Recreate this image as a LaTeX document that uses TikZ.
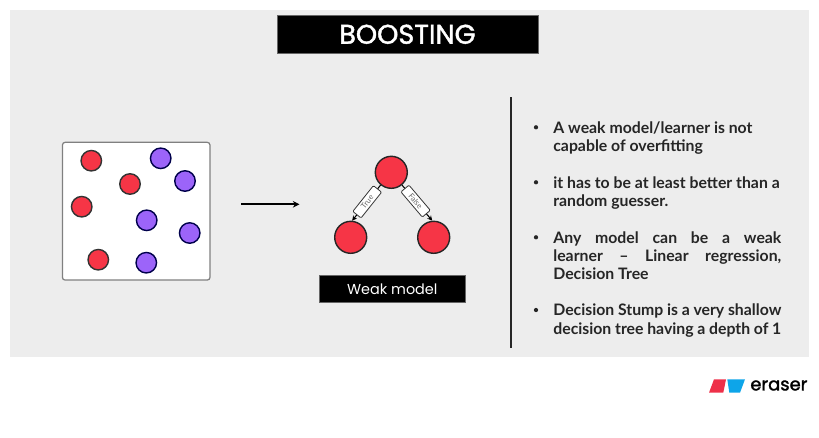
\documentclass[tikz,border=0pt]{standalone}
\usepackage{fontspec}
\setmainfont{Lato}
\newfontfamily\titlefont{Poppins}
\newfontfamily\titleheavy[FakeBold=1.6]{Poppins}
\usetikzlibrary{arrows.meta}
\definecolor{panelgray}{HTML}{EDEDED}
\definecolor{dotred}{HTML}{F63546}
\definecolor{dotpurple}{HTML}{9C64F9}
\definecolor{logored}{HTML}{EE3049}
\definecolor{logoblue}{HTML}{0DA5E9}
\tikzset{
    reddot/.style={circle,draw=black!80,fill=dotred,line width=0.8pt,minimum size=0.41cm,inner sep=0pt},
    purpledot/.style={circle,draw=black!70!blue,fill=dotpurple,line width=0.8pt,minimum size=0.41cm,inner sep=0pt},
    treenode/.style={circle,draw=black!85,fill=dotred,line width=0.8pt,minimum size=0.64cm,inner sep=0pt},
    blackbar/.style={fill=black,text=white,draw=black!60,line width=0.2pt,inner sep=0pt,anchor=center},
    edgelabel/.style={draw=black!80,fill=white,line width=0.45pt,rounded corners=0.6pt,text=black!60,font=\fontsize{4.4}{5}\selectfont,minimum width=0.66cm,minimum height=0.21cm,inner sep=0pt},
    bullettext/.style={anchor=north west,inner sep=0pt,text width=228*0.02cm,align=justify,text=black!85,font=\bfseries\fontsize{9}{10.4}\selectfont},
    bulletdot/.style={circle,fill=black!85,minimum size=0.085cm,inner sep=0pt}
}
\begin{document}
\begin{tikzpicture}[x=0.02cm,y=-0.02cm]
    \useasboundingbox (0,0) rectangle (819,437);
    \fill[panelgray] (10,10) rectangle (809,357);

    % Title
    \node[blackbar,minimum width=261.5*0.02cm,minimum height=38.5*0.02cm,font=\titleheavy\fontsize{15.4}{17}\selectfont] (title) at (407.5,34.3) {BOOSTING};

    % Data box
    \node[draw=black!50,fill=white,line width=0.7pt,rounded corners=1.5pt,minimum width=147.5*0.02cm,minimum height=137.7*0.02cm,inner sep=0pt] (databox) at (136.2,211.2) {};
    \node[reddot] (rA) at (91.3,160.7) {};
    \node[reddot] (rB) at (130,184) {};
    \node[reddot] (rC) at (81.7,206.7) {};
    \node[reddot] (rD) at (98.3,259.7) {};
    \node[purpledot] (pA) at (160.7,158.3) {};
    \node[purpledot] (pB) at (185,181) {};
    \node[purpledot] (pC) at (146.7,220.3) {};
    \node[purpledot] (pD) at (189.7,233) {};
    \node[purpledot] (pE) at (146.3,262.7) {};

    % Arrow
    \coordinate (arrowstart) at (241.3,204.3);
    \coordinate (arrowend) at (299.5,204.3);
    \draw[line width=1pt,-{Stealth[length=3.8pt,width=3.8pt]}] (arrowstart) -- (arrowend);

    % Tree
    \node[treenode] (root) at (391.3,172.3) {};
    \node[treenode] (left) at (350.7,237.3) {};
    \node[treenode] (right) at (433.7,237.3) {};
    \draw[line width=0.6pt,-{Stealth[length=2.8pt,width=2.8pt]}] (root.230) -- node[edgelabel,sloped,pos=0.47] (truelabel) {True} (left.85);
    \draw[line width=0.6pt,-{Stealth[length=2.8pt,width=2.8pt]}] (root.310) -- node[edgelabel,sloped,pos=0.45] (falselabel) {False} (right.95);
    \node[blackbar,minimum width=146.7*0.02cm,minimum height=27*0.02cm,font=\titlefont\fontsize{8.2}{10}\selectfont] (weak) at (392.3,288.8) {Weak model};

    % Divider
    \coordinate (divtop) at (511,97);
    \coordinate (divbottom) at (511,348);
    \draw[line width=1.1pt,black!85] (divtop) -- (divbottom);

    % Bullets
    \node[bulletdot] (dotA) at (536,127.3) {};
    \node[bulletdot] (dotB) at (536,182.3) {};
    \node[bulletdot] (dotC) at (536,237.3) {};
    \node[bulletdot] (dotD) at (536,310) {};
    \node[bullettext] (textA) at (553,121) {A weak model/learner is not\\capable of overfitting};
    \node[bullettext] (textB) at (553,176) {it has to be at least better than a\\random guesser.};
    \node[bullettext] (textC) at (553,231) {Any model can be a weak\linebreak learner -- Linear regression,\linebreak Decision Tree};
    \node[bullettext] (textD) at (553,303.7) {Decision Stump is a very shallow\\decision tree having a depth of 1};

    % Logo
    \fill[logored] (714,379.3) -- (726,379.3) -- (723.3,392.7) -- (709,392.7) -- cycle;
    \fill[logoblue] (727.3,379.3) -- (745,379.3) -- (740,392.7) -- (729.3,392.7) -- cycle;
    \node[inner sep=0pt,anchor=west,font=\titleheavy\fontsize{10.2}{12}\selectfont] (eraser) at (750,385.5) {eraser};
\end{tikzpicture}
\end{document}
